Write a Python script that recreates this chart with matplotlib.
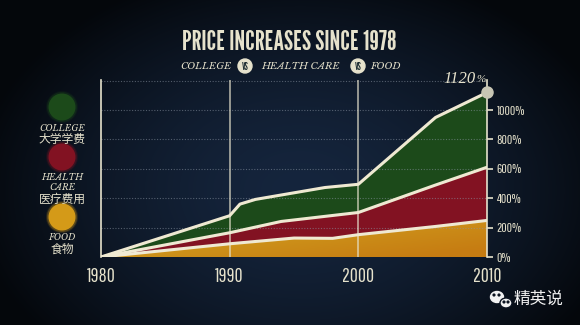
import numpy as np
import matplotlib
matplotlib.use("Agg")
import matplotlib.pyplot as plt
from matplotlib.patches import Circle, Ellipse, Polygon

# ---------------- data ----------------
college_years = [1980, 1990, 1990.8, 1992, 1997.4, 2000, 2006, 2010]
college = [0, 281, 360, 392, 473, 495, 950, 1120]
health_years = [1980, 1990, 1994, 2000, 2006, 2010]
health = [0, 165, 242, 303, 490, 611]
food_years = [1980, 1990, 1995, 1998, 2000, 2006, 2010]
food = [0, 90, 129, 127, 152, 208, 249]
x_ticks = [1980, 1990, 2000, 2010]
y_ticks = [0, 200, 400, 600, 800, 1000]
y_tick_labels = ["0%", "200%", "400%", "600%", "800%", "1000%"]
title = "PRICE INCREASES SINCE 1978"
legend_names = [["COLLEGE", "大学学费"], ["HEALTH", "CARE", "医疗费用"], ["FOOD", "食物"]]
final_label = "1120"

CREAM = "#e6e2cc"
GREEN = "#1c4a1a"
RED = "#821222"
TITLEF = ["League Gothic", "DejaVu Sans"]
NARROW = ["Pathway Gothic One", "DejaVu Sans"]
SERIF = ["Libre Baskerville", "DejaVu Serif"]
SERIF2 = ["Liberation Serif", "DejaVu Serif"]
CJK = ["Noto Sans CJK SC", "DejaVu Sans"]

fig = plt.figure(figsize=(5.8, 3.25), dpi=100)

# ---------- background (pixel coordinates) ----------
bg = fig.add_axes([0, 0, 1, 1], zorder=0)
bg.set_xlim(0, 580)
bg.set_ylim(325, 0)
bg.axis("off")
yy, xx = np.mgrid[0:325, 0:580]
r = np.sqrt(((xx - 300) / 330.0) ** 2 + ((yy - 190) / 230.0) ** 2)
t = np.clip(r, 0, 1) ** 1.6
c_in = np.array([0x15, 0x25, 0x3d]) / 255
c_out = np.array([0x04, 0x07, 0x0b]) / 255
img = c_in[None, None, :] * (1 - t[..., None]) + c_out[None, None, :] * t[..., None]
bg.imshow(img, extent=(0, 580, 325, 0), aspect="auto", zorder=0)

# title
bg.text(289, 43, title, family=TITLEF, fontsize=19.5,
        color=CREAM, ha="center", va="center", zorder=5)
# subtitle with VS badges
sub_y = 66
bg.text(206, sub_y, "COLLEGE", family=SERIF, style="italic",
        fontsize=7, color=CREAM, ha="center", va="center", zorder=5)
bg.text(301, sub_y, "HEALTH CARE", family=SERIF, style="italic",
        fontsize=7, color=CREAM, ha="center", va="center", zorder=5)
bg.text(386, sub_y, "FOOD", family=SERIF, style="italic",
        fontsize=7, color=CREAM, ha="center", va="center", zorder=5)
for cx in (245, 358):
    bg.add_patch(Circle((cx, sub_y), 7, color=CREAM, zorder=5))
    bg.text(cx, sub_y + 0.5, "VS", family=TITLEF, fontsize=7,
            color="#1a2a30", ha="center", va="center", zorder=6)

# legend circles and labels
leg_colors = [GREEN, RED, "#d49a18"]
leg_centers = [107, 157, 217]
for col, cy in zip(leg_colors, leg_centers):
    for rr, a in ((16, 0.15), (15, 0.3)):
        bg.add_patch(Circle((62, cy), rr, color=col, alpha=a, zorder=3, lw=0))
    bg.add_patch(Circle((62, cy), 13.5, color=col, zorder=4, lw=0))
label_rows = [[128, 140], [177, 187, 199], [237, 249]]
for names, ys in zip(legend_names, label_rows):
    for nm, y in zip(names, ys):
        if nm.isascii():
            bg.text(62, y, nm, family=SERIF, style="italic", fontsize=6.3,
                    color=CREAM, ha="center", va="center", zorder=5)
        else:
            bg.text(62, y, nm, family=CJK, fontsize=8.5, color=CREAM,
                    ha="center", va="center", zorder=5)

# watermark
bg.add_patch(Ellipse((497, 297), 13, 11, color="#f2f2f2", zorder=5))
bg.add_patch(Ellipse((506, 303), 12, 10, color="#f2f2f2", ec="#0b1320", lw=1, zorder=6))
for ex, ey in ((494, 295), (499, 295), (504, 302), (508, 302)):
    bg.add_patch(Circle((ex, ey), 0.9, color="#0b1320", zorder=7))
bg.text(538, 299, "精英说", family=CJK, fontsize=12, color="#f2f2f2",
        ha="center", va="center", zorder=5)

# ---------------- main chart ----------------
ax = fig.add_axes([101 / 580, 68 / 325, 386 / 580, 177 / 325], zorder=2)
ax.set_facecolor("none")
ax.set_xlim(1980, 2010)
ax.set_ylim(0, 1205)

# fills
ax.add_patch(Polygon(np.column_stack([college_years + health_years[::-1],
                                      college + health[::-1]]),
                     closed=True, fc=GREEN, ec="none", zorder=2))
ax.add_patch(Polygon(np.column_stack([health_years + food_years[::-1],
                                      health + food[::-1]]),
                     closed=True, fc=RED, ec="none", zorder=2))
food_poly = Polygon(np.column_stack([food_years + [2010, 1980],
                                     food + [0, 0]]),
                    closed=True, fc="none", ec="none", zorder=2)
ax.add_patch(food_poly)
gy, gx = np.mgrid[0:60, 0:200]
g = np.clip(0.6 * gx / 200 + 0.5 * (1 - gy / 60), 0, 1)
c1 = np.array([0xd4, 0xaa, 0x22]) / 255
c2 = np.array([0xc6, 0x7c, 0x12]) / 255
gimg = c1[None, None, :] * (1 - g[..., None]) + c2[None, None, :] * g[..., None]
gimg = gimg[::-1]
im = ax.imshow(gimg, extent=(1980, 2010, 0, 260), origin="upper",
               aspect="auto", zorder=2)
im.set_clip_path(food_poly)

# grid lines
for yv in [200, 400, 600, 800, 1000, 1200]:
    ax.axhline(yv, color="#8c96a4", lw=0.8, ls=(0, (1, 1.5)), alpha=0.55, zorder=3)
for xv in [1990, 2000]:
    ax.axvline(xv, color=CREAM, lw=1.1, alpha=0.8, zorder=3)

# lines
for xs, ys in ((food_years, food), (health_years, health), (college_years, college)):
    ax.plot(xs, ys, color="#efe9d2", lw=2.2, solid_joinstyle="round",
            solid_capstyle="round", zorder=5)
ax.plot([college_years[-1]], [college[-1]], "o", ms=8, color="#c8c6b4",
        zorder=6, clip_on=False)
ax.text(2009.1, 1215, final_label, family=SERIF2, style="italic", fontsize=12,
        color=CREAM, ha="right", va="center", clip_on=False)
ax.text(2009.2, 1205, "%", family=SERIF2, style="italic", fontsize=8,
        color=CREAM, ha="left", va="center", clip_on=False)

# spines / ticks
for s in ("top", "bottom"):
    ax.spines[s].set_visible(False)
for s in ("left", "right"):
    ax.spines[s].set_color(CREAM)
    ax.spines[s].set_linewidth(1.2)
    ax.spines[s].set_zorder(4)
ax.set_xticks(x_ticks)
ax.set_xticklabels([str(v) for v in x_ticks], family=NARROW, fontsize=14,
                   color=CREAM)
ax.tick_params(axis="x", length=0, pad=7)
ax.yaxis.tick_right()
ax.set_yticks(y_ticks)
ax.set_yticklabels(y_tick_labels, family=NARROW, fontsize=9.5, color=CREAM)
ax.tick_params(axis="y", length=4, width=1.2, color=CREAM, pad=3, direction="out")

fig.savefig("out.png", dpi=100, facecolor="#0a1018")
